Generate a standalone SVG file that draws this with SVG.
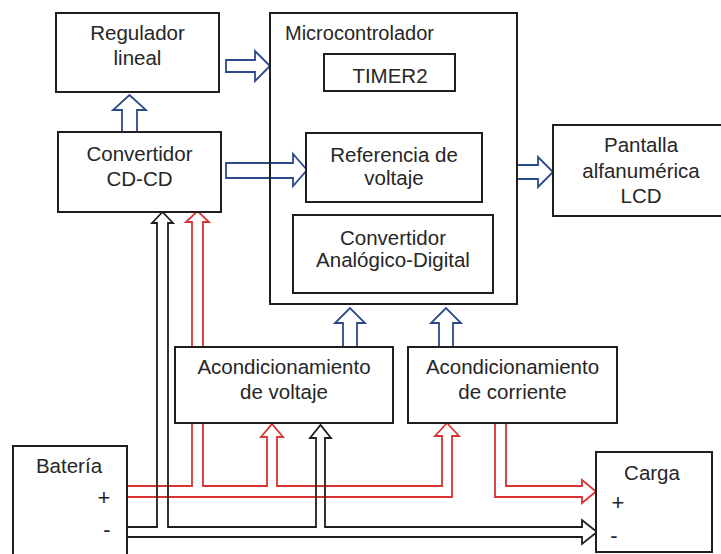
<svg xmlns="http://www.w3.org/2000/svg" width="721" height="554" viewBox="0 0 721 554">
  <style>
    .box { fill: #ffffff; stroke: #1e1e1e; stroke-width: 2; }
    .lbl { font-family: "Liberation Sans", Arial, sans-serif; font-size: 20.5px; fill: #262626; text-anchor: middle; }
    .lbl-l { font-family: "Liberation Sans", Arial, sans-serif; font-size: 20px; fill: #262626; }
    .sign { font-family: "Liberation Sans", Arial, sans-serif; font-size: 22px; fill: #262626; text-anchor: middle; }
    .blue { fill: none; stroke: #2c4a8a; stroke-width: 1.8; stroke-linejoin: miter; }
    .red { fill: none; stroke: #d83434; stroke-width: 1.8; }
    .blk { fill: none; stroke: #1e1e1e; stroke-width: 1.8; }
  </style>
  <rect width="721" height="554" fill="#ffffff"/>

  <!-- power wiring (drawn first so boxes sit on top) -->
  <g id="connectors">
    <!-- battery + : red supply pipe to DC-DC, voltage and current conditioning -->
    <path class="red" d="M128,486 H192 V222 H186 L197.5,211 L209,222 H203 V486 H267 V437 H261 L272,424 L283,437 H277 V486 H442 V436 H435 L447,423 L459,436 H452 V497 H128"/>
    <!-- current conditioning to load + -->
    <path class="red" d="M495,423 V497 H582 V503 L596,491.5 L582,480 V486 H506 V423 Z"/>
    <!-- battery - : black return pipe -->
    <path class="blk" d="M128,527 H157 V223 H152 L162.5,212 L173,223 H168 V527 H316 V438 H310 L320.5,425 L331,438 H325 V527 H582 V520 L597,532 L582,544 V537 H128"/>
    <!-- signal arrows (blue) -->
    <path class="blue" d="M226,60 H255 V51 L270,66 L255,81 V72 H226 Z"/>
    <path class="blue" d="M226,163 H293 V154 L307,170 L293,186 V178 H226 Z"/>
    <path class="blue" d="M517,165 H538 V157 L553,172 L538,187 V179 H517 Z"/>
    <path class="blue" d="M122,132 V110 H113 L129.5,95 L146,110 H137 V132 Z"/>
    <path class="blue" d="M343,347 V323 H335 L350,308 L365,323 H357 V347 Z"/>
    <path class="blue" d="M439,347 V323 H431 L446,308 L461,323 H453 V347 Z"/>
  </g>

  <g id="regulador">
    <rect class="box" x="56" y="13" width="163" height="79"/>
    <text class="lbl" x="137.5" y="40">Regulador</text>
    <text class="lbl" x="137.5" y="65">lineal</text>
  </g>

  <g id="convertidor-cdcd">
    <rect class="box" x="58" y="132" width="163" height="80"/>
    <text class="lbl" x="139.5" y="161">Convertidor</text>
    <text class="lbl" x="139.5" y="186">CD-CD</text>
  </g>

  <g id="microcontrolador">
    <rect class="box" x="270" y="13" width="247" height="291" style="fill:none"/>
    <text class="lbl-l" x="285" y="40">Microcontrolador</text>
  </g>

  <g id="timer2">
    <rect class="box" x="324" y="54" width="131" height="37"/>
    <text class="lbl" x="390" y="83">TIMER2</text>
  </g>

  <g id="referencia">
    <rect class="box" x="306" y="133" width="176" height="69"/>
    <text class="lbl" x="394" y="162">Referencia de</text>
    <text class="lbl" x="394" y="185">voltaje</text>
  </g>

  <g id="adc">
    <rect class="box" x="293" y="215" width="200" height="78"/>
    <text class="lbl" x="393" y="245">Convertidor</text>
    <text class="lbl" x="393" y="267">Analógico-Digital</text>
  </g>

  <g id="pantalla">
    <rect class="box" x="553" y="125" width="176" height="91"/>
    <text class="lbl" x="641" y="152">Pantalla</text>
    <text class="lbl" x="641" y="178">alfanumérica</text>
    <text class="lbl" x="641" y="203">LCD</text>
  </g>

  <g id="acond-voltaje">
    <rect class="box" x="175" y="347" width="218" height="76"/>
    <text class="lbl" x="284" y="374">Acondicionamiento</text>
    <text class="lbl" x="284" y="399">de voltaje</text>
  </g>

  <g id="acond-corriente">
    <rect class="box" x="408" y="347" width="209" height="76"/>
    <text class="lbl" x="512.5" y="374">Acondicionamiento</text>
    <text class="lbl" x="512.5" y="399">de corriente</text>
  </g>

  <g id="bateria">
    <rect class="box" x="13" y="446" width="114" height="120"/>
    <text class="lbl" x="69" y="473">Batería</text>
    <text class="sign" x="104" y="505">+</text>
    <text class="sign" x="107" y="537">-</text>
  </g>

  <g id="carga">
    <rect class="box" x="596" y="452" width="116" height="100"/>
    <text class="lbl" x="652" y="480">Carga</text>
    <text class="sign" x="618" y="510">+</text>
    <text class="sign" x="614" y="543">-</text>
  </g>
</svg>
